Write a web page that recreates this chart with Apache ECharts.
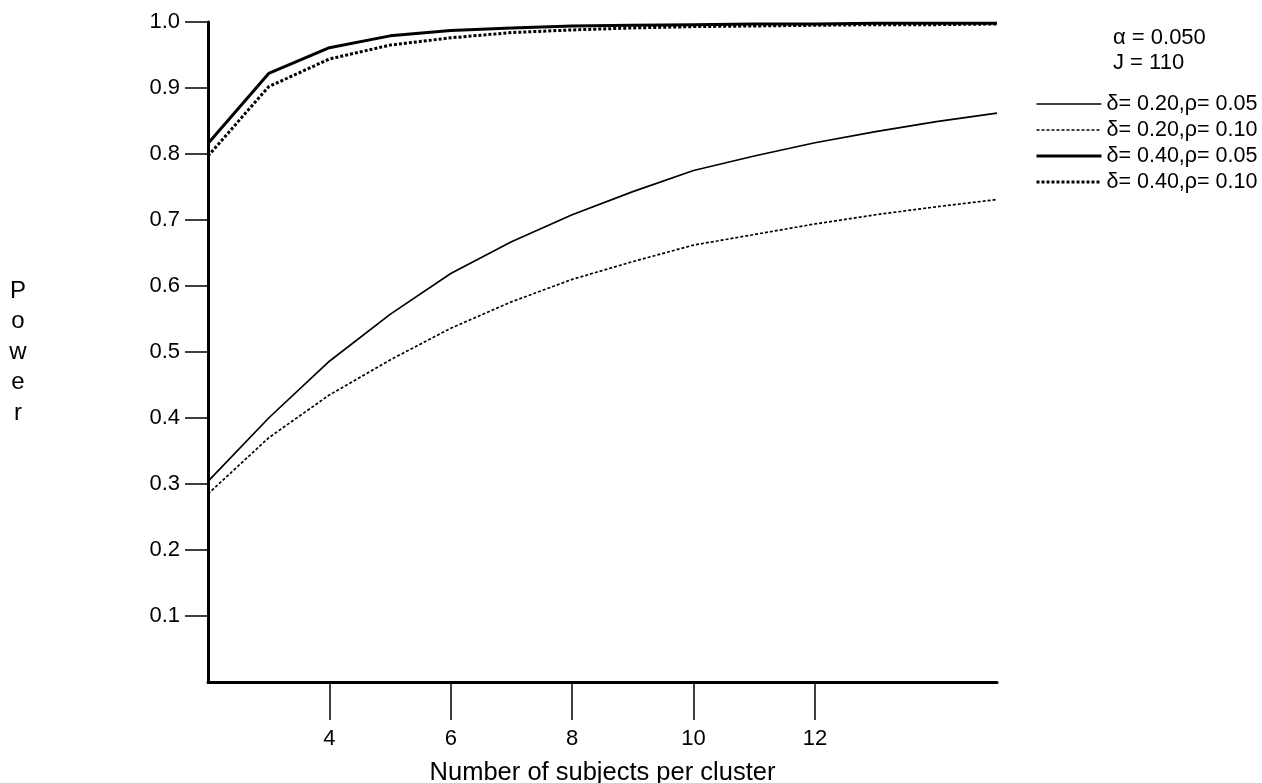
<!DOCTYPE html>
<html>
<head>
<meta charset="utf-8">
<script src="https://cdn.jsdelivr.net/npm/echarts@6/dist/echarts.min.js"></script>
<style>
html,body{margin:0;padding:0;background:#fff;}
#chart{width:1262px;height:783px;}
</style>
</head>
<body>
<div id="chart"></div>
<script>
var subjects = [2,3,4,5,6,7,8,9,10,11,12,13,14,15];
var powerD20R05 = [0.304,0.400,0.486,0.557,0.619,0.667,0.708,0.743,0.775,0.797,0.817,0.834,0.849,0.862];
var powerD20R10 = [0.285,0.370,0.435,0.488,0.536,0.576,0.610,0.637,0.662,0.678,0.694,0.708,0.720,0.731];
var powerD40R05 = [0.816,0.922,0.961,0.979,0.987,0.991,0.994,0.995,0.996,0.997,0.997,0.998,0.998,0.998];
var powerD40R10 = [0.797,0.902,0.944,0.965,0.976,0.984,0.988,0.991,0.993,0.994,0.995,0.996,0.996,0.997];
var seriesNames = ['δ= 0.20,ρ= 0.05','δ= 0.20,ρ= 0.10','δ= 0.40,ρ= 0.05','δ= 0.40,ρ= 0.10'];
var xTicks = [4,6,8,10,12];
var yTicks = [0.1,0.2,0.3,0.4,0.5,0.6,0.7,0.8,0.9,1.0];
var annotation = ['α = 0.050','J = 110'];

function pairs(ys){ return subjects.map(function(x,i){ return [x, ys[i]]; }); }

var FONT = 'Liberation Sans, Arial, sans-serif';
var widths = [1.7, 1.7, 3, 3];
var dashes = ['solid', [3,2], 'solid', [3,2]];
var chart = echarts.init(document.getElementById('chart'));
function mk(i, ys){
  return {
    name: seriesNames[i], type: 'line', data: pairs(ys), symbol: 'none', showSymbol: false, smooth: false,
    lineStyle: {color: '#000', width: widths[i], type: dashes[i]},
    itemStyle: {color: '#000'}, animation: false
  };
}
chart.setOption({
  backgroundColor: '#fff',
  animation: false,
  textStyle: {fontFamily: FONT, color: '#000'},
  grid: {left: 208, right: 265, top: 22, bottom: 101, containLabel: false, outerBoundsMode: 'none'},
  xAxis: {
    type: 'value', min: 2, max: 15,
    name: 'Number of subjects per cluster', nameLocation: 'middle', nameGap: 78,
    nameTextStyle: {fontSize: 25.5, color: '#000', fontFamily: FONT},
    axisLine: {show: true, onZero: false, lineStyle: {color: '#000', width: 3}},
    axisTick: {show: true, length: 38, customValues: xTicks, lineStyle: {color: '#000', width: 1.5}},
    axisLabel: {customValues: xTicks, fontSize: 22, color: '#000', margin: 46, fontFamily: FONT},
    splitLine: {show: false}
  },
  yAxis: {
    type: 'value', min: 0, max: 1,
    name: 'P\no\nw\ne\nr', nameLocation: 'middle', nameGap: 190, nameRotate: 0,
    nameTextStyle: {fontSize: 24, lineHeight: 30.5, color: '#000', align: 'center', verticalAlign: 'middle', fontFamily: FONT},
    axisLine: {show: true, lineStyle: {color: '#000', width: 3}},
    axisTick: {show: true, length: 23, customValues: yTicks, lineStyle: {color: '#000', width: 1.5}},
    axisLabel: {customValues: yTicks, fontSize: 22, color: '#000', margin: 28, fontFamily: FONT,
      formatter: function(v){ return v.toFixed(1); }},
    splitLine: {show: false}
  },
  legend: {
    orient: 'vertical', left: 1035, top: 93, itemGap: 4, padding: 0,
    itemWidth: 65, itemHeight: 14,
    itemStyle: {opacity: 0},
    textStyle: {fontSize: 21.5, color: '#000', fontFamily: FONT},
    data: seriesNames.map(function(n, i){
      return {name: n, itemStyle: {opacity: 0}, lineStyle: {width: widths[i], type: dashes[i], color: '#000'}};
    })
  },
  graphic: [
    {type: 'text', left: 1113, top: 27, style: {text: annotation[0], fontSize: 22, fill: '#000', fontFamily: FONT}},
    {type: 'text', left: 1113, top: 52, style: {text: annotation[1], fontSize: 22, fill: '#000', fontFamily: FONT}}
  ],
  series: [
    mk(0, powerD20R05),
    mk(1, powerD20R10),
    mk(2, powerD40R05),
    mk(3, powerD40R10)
  ]
});
</script>
</body>
</html>
